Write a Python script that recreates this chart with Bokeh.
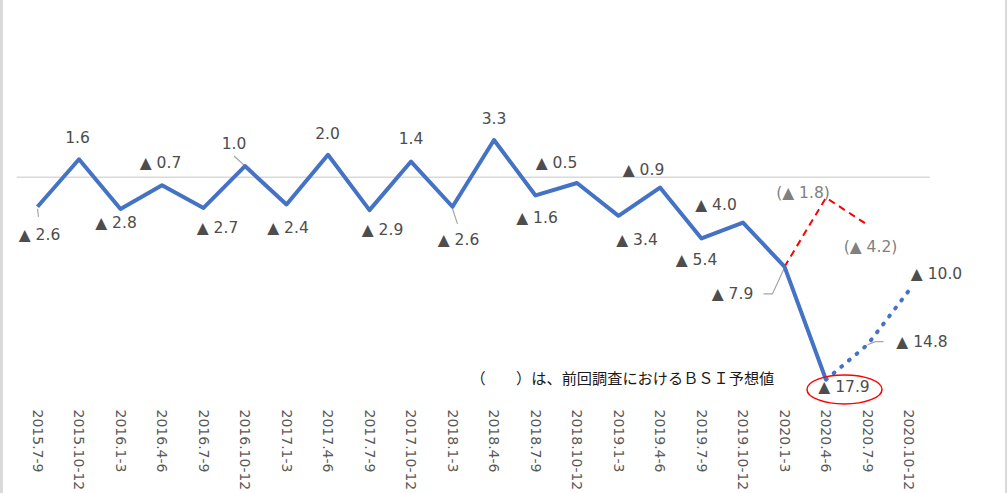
import math
from bokeh.plotting import figure
from bokeh.models import Range1d, FixedTicker
from bokeh.embed import file_html
from bokeh.resources import INLINE
from bokeh.core.properties import value

# ---------------- data ----------------
categories = ["2015.7-9", "2015.10-12", "2016.1-3", "2016.4-6", "2016.7-9", "2016.10-12",
              "2017.1-3", "2017.4-6", "2017.7-9", "2017.10-12", "2018.1-3", "2018.4-6",
              "2018.7-9", "2018.10-12", "2019.1-3", "2019.4-6", "2019.7-9", "2019.10-12",
              "2020.1-3", "2020.4-6", "2020.7-9", "2020.10-12"]
actual = [-2.6, 1.6, -2.8, -0.7, -2.7, 1.0, -2.4, 2.0, -2.9, 1.4, -2.6, 3.3,
          -1.6, -0.5, -3.4, -0.9, -5.4, -4.0, -7.9, -17.9]
forecast_cats = ["2020.7-9", "2020.10-12"]
forecast = [-14.8, -10.0]
prev_cats = ["2020.4-6", "2020.7-9"]
prev_forecast = [-1.8, -4.2]
note = "（　　）は、前回調査におけるＢＳＩ予想値"

# ---------------- label placement (pixels, screen y down) ----------------
actual_off = [(2, 28), (-1.5, -22), (-4.5, 14), (-1.5, -22), (14, 20), (-11, -23),
              (1.5, 23), (-0.5, -22), (13, 20), (0, -23.5), (6, 33), (0, -22),
              (1.5, 22.7), (-20.5, -20), (18.5, 24), (-16.5, -18), (-5, 22),
              (-27, -17.7), (-52, 27.4), (18, 7.6)]
forecast_off = [(54.5, -2.5), (27.5, -16.5)]
prev_off = [(-23, -4.5), (3, 22.4)]
PX_X = 41.5    # pixels per category
PX_Y = 11.25   # pixels per index point
W, H = 1007, 493

def fmt(v):
    return "▲ %.1f" % abs(v) if v < 0 else "%.1f" % v

idx = {c: i for i, c in enumerate(categories)}
xa = list(range(len(actual)))
xf = [len(actual) - 1] + [idx[c] for c in forecast_cats]
yf = [actual[-1]] + forecast
xp = [len(actual) - 2] + [idx[c] for c in prev_cats]
yp = [actual[-2]] + prev_forecast

x0 = -37 / PX_X
p = figure(width=W, height=H, output_backend="svg", toolbar_location=None,
           x_range=Range1d(x0, x0 + W / PX_X),
           y_range=Range1d(-(405 - 176) / PX_Y, 176 / PX_Y), y_axis_location=None,
           min_border_left=0, min_border_right=0, min_border_top=0)
p.outline_line_color = None
p.xgrid.visible = False
p.ygrid.visible = False
p.background_fill_color = None
p.border_fill_color = None
p.styles = {"box-shadow": "inset 3px 0 0 0 #d9d9d9, inset -2px 0 0 0 #d9d9d9"}

ax = p.xaxis[0]
ax.ticker = FixedTicker(ticks=list(range(len(categories))))
ax.major_label_overrides = {i: c for i, c in enumerate(categories)}
ax.major_label_orientation = -math.pi / 2
ax.axis_line_color = None
ax.major_tick_line_color = None
ax.minor_tick_line_color = None
ax.major_tick_out = 0
ax.major_tick_in = 0
ax.major_label_standoff = 2
ax.major_label_text_font = "DejaVu Sans"
ax.major_label_text_font_size = "14px"
ax.major_label_text_color = "#595959"

# zero line across the category band
p.line([-0.5, len(categories) - 0.5], [0, 0], line_color="#d9d9d9", line_width=1.5)

# leader lines
leaders = [(0, actual[0], [(0, 2), (1, 10)]),
           (5, actual[5], [(-1, -1), (-11, -10)]),
           (10, actual[10], [(0, 2), (5, 17)]),
           (18, actual[18], [(0, 1), (-12, 27), (-21, 27)]),
           (idx[forecast_cats[0]], forecast[0], [(0, 0), (8, -3), (16, -3)])]
xs = [[i + dx / PX_X for dx, dy in pts] for i, v, pts in leaders]
ys = [[v - dy / PX_Y for dx, dy in pts] for i, v, pts in leaders]
p.multi_line(xs, ys, line_color="#a6a6a6", line_width=1.2)

# previous forecast (red dashed)
p.line(xp, yp, line_color="#ff0000", line_width=2, line_dash="7 5")
# forecast (blue dotted)
p.line(xf, yf, line_color="#4472c4", line_width=4, line_dash="1 9", line_cap="round")
# actual
p.line(xa, actual, line_color="#4472c4", line_width=4, line_join="round")

lab_font = value("DejaVu Sans")
p.text(x=xa, y=actual, text=[fmt(v) for v in actual],
       x_offset=[o[0] for o in actual_off], y_offset=[o[1] for o in actual_off],
       text_align="center", text_baseline="middle", text_font=lab_font,
       text_font_size="15.5px", text_color="#4d4d4d")
p.text(x=xf[1:], y=forecast, text=[fmt(v) for v in forecast],
       x_offset=[o[0] for o in forecast_off], y_offset=[o[1] for o in forecast_off],
       text_align="center", text_baseline="middle", text_font=lab_font,
       text_font_size="15.5px", text_color="#4d4d4d")
p.text(x=xp[1:], y=prev_forecast, text=["(%s)" % fmt(v) for v in prev_forecast],
       x_offset=[o[0] for o in prev_off], y_offset=[o[1] for o in prev_off],
       text_align="center", text_baseline="middle", text_font=lab_font,
       text_font_size="15.5px", text_color="#808080")

# highlight ellipse around the latest actual value
last = len(actual) - 1
p.ellipse(x=[last + 18.5 / PX_X], y=[actual[-1] - 9.6 / PX_Y], width=75, height=29,
          width_units="screen", height_units="screen", fill_color=None,
          line_color="#ff0000", line_width=1.5)

# note
p.text(x=[(470 - 37) / PX_X], y=[-17.7], text=[note], text_align="left",
       text_baseline="middle", text_font=value("Noto Sans CJK JP"),
       text_font_size="15.2px", text_color="#1a1a1a")

open("out.html", "w").write(file_html(p, INLINE))
